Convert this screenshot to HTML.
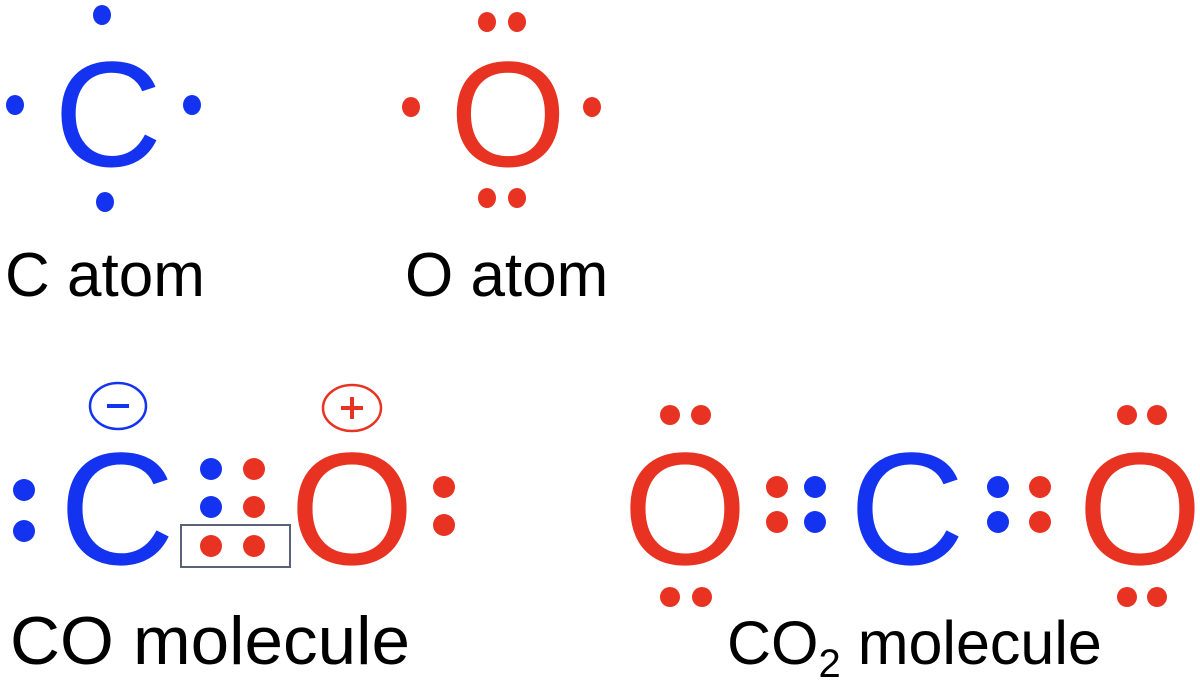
<!DOCTYPE html>
<html><head><style>html,body{margin:0;padding:0;background:#fff}svg{display:block}</style></head>
<body>
<svg width="1200" height="684" viewBox="0 0 1200 684" xmlns="http://www.w3.org/2000/svg" font-family="Liberation Sans, Arial, sans-serif">
<g fill="#1433f0">
<text x="108" y="166" font-size="150" text-anchor="middle">C</text>
<ellipse cx="102" cy="15" rx="9" ry="10"/><ellipse cx="15" cy="105" rx="9" ry="10"/><ellipse cx="192" cy="105" rx="9" ry="10"/><ellipse cx="105" cy="202" rx="9" ry="10"/>
</g>
<g fill="#e83323">
<text x="508" y="166" font-size="150" text-anchor="middle">O</text>
<ellipse cx="487" cy="22" rx="9" ry="10"/><ellipse cx="517" cy="22" rx="9" ry="10"/>
<ellipse cx="411" cy="107" rx="9" ry="10"/><ellipse cx="592" cy="107" rx="9" ry="10"/>
<ellipse cx="487" cy="198" rx="9" ry="10"/><ellipse cx="517" cy="198" rx="9" ry="10"/>
</g>
<g fill="#000">
<text x="5" y="296" font-size="62">C atom</text>
<text x="405" y="296" font-size="62">O atom</text>
<text x="10" y="664" font-size="68" textLength="400" lengthAdjust="spacingAndGlyphs">CO molecule</text>
<text x="727" y="664" font-size="61">CO<tspan font-size="40" dy="13">2</tspan><tspan dy="-13"> molecule</tspan></text>
</g>
<!-- CO -->
<g fill="#1433f0">
<text x="117" y="564" font-size="160" text-anchor="middle">C</text>
<ellipse cx="24" cy="490" rx="11" ry="11"/><ellipse cx="24" cy="531" rx="11" ry="11"/>
<ellipse cx="211" cy="469" rx="11" ry="11"/><ellipse cx="211" cy="507" rx="11" ry="11"/>
</g>
<ellipse cx="118" cy="406" rx="28" ry="23" fill="none" stroke="#1433f0" stroke-width="2.5"/>
<rect x="107" y="404" width="22" height="4" fill="#1433f0"/>
<g fill="#e83323">
<text x="352" y="564" font-size="160" text-anchor="middle">O</text>
<ellipse cx="254" cy="469" rx="11" ry="11"/><ellipse cx="254" cy="507" rx="11" ry="11"/>
<ellipse cx="211" cy="546" rx="11" ry="11"/><ellipse cx="254" cy="546" rx="11" ry="11"/>
<ellipse cx="444" cy="487" rx="11" ry="11"/><ellipse cx="444" cy="525" rx="11" ry="11"/>
<rect x="341" y="406" width="22" height="4"/><rect x="350" y="397" width="4" height="22"/>
</g>
<ellipse cx="352" cy="408" rx="29" ry="23" fill="none" stroke="#e83323" stroke-width="2.5"/>
<rect x="181" y="525" width="109" height="42" fill="none" stroke="#5a6278" stroke-width="2"/>
<!-- CO2 -->
<g fill="#e83323">
<text x="685" y="564" font-size="160" text-anchor="middle">O</text>
<text x="1140" y="564" font-size="160" text-anchor="middle">O</text>
<ellipse cx="670" cy="415" rx="10" ry="10"/><ellipse cx="701" cy="415" rx="10" ry="10"/>
<ellipse cx="670" cy="597" rx="10" ry="10"/><ellipse cx="702" cy="597" rx="10" ry="10"/>
<ellipse cx="777" cy="487" rx="11" ry="11"/><ellipse cx="777" cy="522" rx="11" ry="11"/>
<ellipse cx="1040" cy="487" rx="11" ry="11"/><ellipse cx="1040" cy="522" rx="11" ry="11"/>
<ellipse cx="1127" cy="415" rx="10" ry="10"/><ellipse cx="1157" cy="415" rx="10" ry="10"/>
<ellipse cx="1127" cy="597" rx="10" ry="10"/><ellipse cx="1157" cy="597" rx="10" ry="10"/>
</g>
<g fill="#1433f0">
<text x="907" y="564" font-size="160" text-anchor="middle">C</text>
<ellipse cx="815" cy="487" rx="11" ry="11"/><ellipse cx="815" cy="522" rx="11" ry="11"/>
<ellipse cx="998" cy="487" rx="11" ry="11"/><ellipse cx="998" cy="522" rx="11" ry="11"/>
</g>
</svg>
</body></html>
